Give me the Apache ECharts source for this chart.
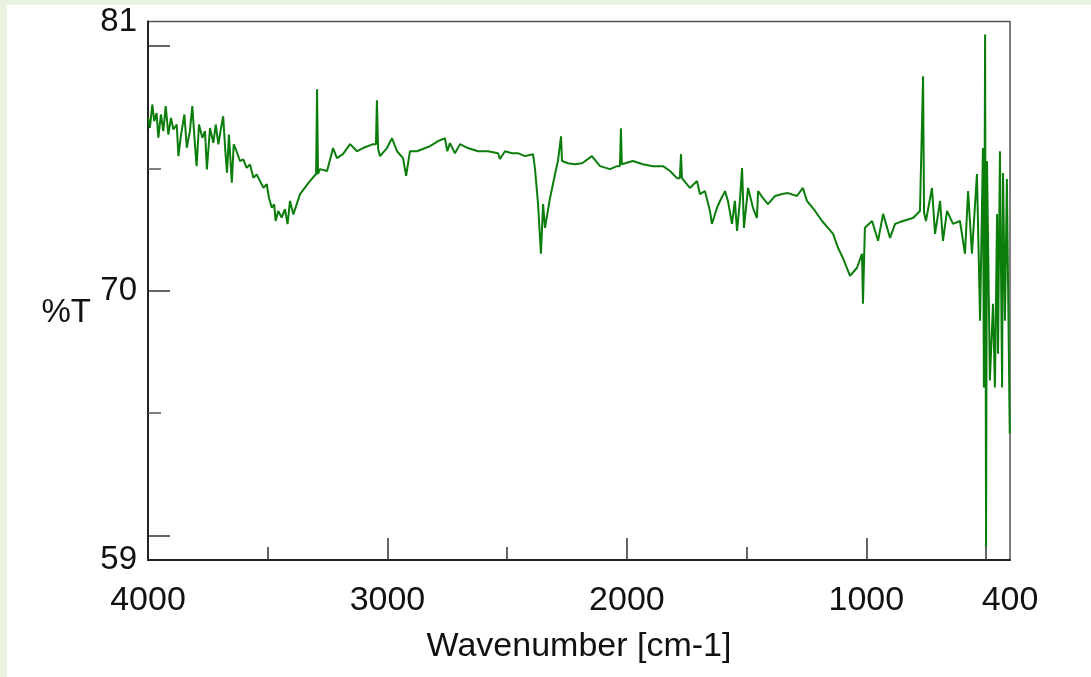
<!DOCTYPE html>
<html>
<head>
<meta charset="utf-8">
<title>IR spectrum</title>
<script src="https://cdn.jsdelivr.net/npm/echarts@6/dist/echarts.min.js"></script>
<style>
  html, body { margin: 0; padding: 0; background: #eaf2e0; }
  #main { position: absolute; left: 7px; top: 5px; width: 1084px; height: 672px; background: #fff; }
</style>
</head>
<body>
<div id="main"></div>
<script>
const wavenumbers = [
  3999, 3992, 3982, 3974, 3964, 3957, 3946, 3936, 3926, 3915,
  3904, 3894, 3880, 3873, 3862, 3848, 3838, 3825, 3815, 3804,
  3797, 3787, 3773, 3762, 3754, 3741, 3727, 3717, 3706, 3695,
  3686, 3678, 3670, 3662, 3650, 3642, 3630, 3616, 3602, 3588,
  3574, 3560, 3546, 3532, 3518, 3504, 3495, 3483, 3473, 3467,
  3456, 3442, 3428, 3417, 3407, 3393, 3365, 3324, 3298, 3294,
  3290, 3282, 3252, 3227, 3211, 3186, 3156, 3127, 3102, 3060,
  3048, 3044, 3039, 3031, 3002, 2981, 2960, 2935, 2922, 2906,
  2877, 2852, 2822, 2789, 2760, 2750, 2739, 2718, 2697, 2664,
  2622, 2580, 2538, 2530, 2509, 2480, 2455, 2426, 2392, 2384,
  2371, 2359, 2350, 2342, 2321, 2300, 2288, 2275, 2271, 2246,
  2217, 2187, 2146, 2112, 2071, 2041, 2029, 2025, 2021, 1975,
  1933, 1891, 1849, 1820, 1791, 1779, 1774, 1770, 1766, 1737,
  1707, 1695, 1674, 1653, 1645, 1624, 1611, 1590, 1578, 1561,
  1549, 1540, 1528, 1519, 1511, 1494, 1473, 1457, 1452, 1432,
  1411, 1381, 1352, 1327, 1290, 1265, 1248, 1214, 1185, 1160,
  1139, 1118, 1098, 1068, 1039, 1018, 1014, 1006, 976, 951,
  930, 901, 880, 847, 805, 776, 768, 763, 759, 751,
  726, 713, 692, 680, 663, 638, 609, 588, 575, 559,
  538, 525, 513, 509, 504, 500, 496, 484, 471, 463,
  454, 450, 442, 433, 429, 421, 413, 401
];
// %T at each wavenumber
const transmittance = [
  77.06, 76.65, 77.61, 76.93, 77.26, 76.25, 77.20, 76.52, 77.54, 76.38,
  77.06, 76.59, 76.79, 75.50, 76.38, 77.20, 75.84, 76.52, 77.54, 75.98,
  75.09, 76.79, 76.25, 76.52, 74.96, 76.65, 76.04, 76.79, 75.98, 76.65,
  77.13, 75.84, 74.82, 76.38, 74.41, 75.98, 75.70, 75.30, 75.37, 75.02,
  75.16, 74.62, 74.75, 74.48, 74.21, 74.35, 73.80, 73.39, 73.53, 72.85,
  73.26, 72.99, 73.33, 72.72, 73.67, 73.12, 73.95, 74.48, 74.77, 78.23,
  74.77, 74.97, 74.89, 75.83, 75.42, 75.58, 75.99, 75.70, 75.83, 75.99,
  75.99, 77.78, 75.80, 75.50, 75.83, 76.23, 75.70, 75.42, 74.69, 75.70,
  75.70, 75.79, 75.91, 76.11, 76.23, 75.70, 76.03, 75.62, 75.99, 75.83,
  75.70, 75.70, 75.62, 75.38, 75.70, 75.62, 75.62, 75.50, 75.58, 75.01,
  73.54, 71.51, 73.54, 72.57, 73.79, 74.77, 75.30, 76.31, 75.30, 75.21,
  75.17, 75.21, 75.50, 75.09, 74.97, 75.09, 75.10, 76.64, 75.17, 75.30,
  75.17, 75.09, 75.09, 74.89, 74.60, 74.60, 75.58, 74.60, 74.60, 74.20,
  74.48, 73.95, 74.07, 73.26, 72.73, 73.38, 73.67, 74.07, 73.67, 72.73,
  73.67, 72.44, 73.67, 75.01, 72.57, 74.20, 73.38, 72.97, 74.07, 73.79,
  73.54, 73.87, 73.95, 73.99, 73.87, 74.20, 73.67, 73.26, 72.85, 72.57,
  72.32, 71.75, 71.34, 70.61, 70.94, 71.51, 69.47, 72.57, 72.85, 72.04,
  73.14, 72.16, 72.73, 72.85, 72.97, 73.26, 73.30, 78.76, 73.20, 72.85,
  74.20, 72.32, 73.67, 72.04, 73.26, 72.73, 72.85, 71.51, 74.07, 71.51,
  74.77, 68.78, 75.83, 66.05, 80.47, 59.53, 75.30, 66.33, 69.47, 66.05,
  73.14, 67.43, 75.70, 66.05, 74.81, 68.78, 74.56, 64.17
];
const xLabels = [4000, 3000, 2000, 1000, 400];
const xMajorTicks = [3000, 2000, 1000];
const xMinorTicks = [3500, 2500, 1500, 500];
const yLabels = [59, 70, 81];
const yMajorTicks = [60, 70, 80];
const yMinorTicks = [65, 75];

const spectrum = wavenumbers.map((w, i) => [w, transmittance[i]]);

let myChart = echarts.init(document.getElementById('main'));
const font = 'Liberation Sans, Arial, sans-serif';

let option = {
    animation: false,
    grid: {
        left: 141, right: 81, top: 15, bottom: 117,
        show: true,
        borderColor: '#555',
        borderWidth: 1.5
    },
    xAxis: [
        {
            type: 'value', min: 400, max: 4000, inverse: true,
            position: 'bottom',
            name: 'Wavenumber [cm-1]',
            nameLocation: 'middle',
            nameGap: 70,
            nameTextStyle: { fontFamily: font, fontSize: 34, color: '#111' },
            axisLine: { show: true, lineStyle: { color: '#222', width: 2 } },
            axisTick: { show: true, inside: true, length: 22, customValues: xMajorTicks, lineStyle: { color: '#333', width: 1.5 } },
            axisLabel: { customValues: xLabels, margin: 24, fontFamily: font, fontSize: 34, color: '#111', formatter: v => String(v) },
            splitLine: { show: false }
        },
        {
            type: 'value', min: 400, max: 4000, inverse: true,
            position: 'bottom',
            axisLine: { show: false },
            axisTick: { show: true, inside: true, length: 13, customValues: xMinorTicks, lineStyle: { color: '#333', width: 1.5 } },
            axisLabel: { show: false },
            splitLine: { show: false }
        }
    ],
    yAxis: [
        {
            type: 'value', min: 59, max: 81,
            position: 'left',
            name: '%T',
            nameLocation: 'middle',
            nameRotate: 0,
            nameGap: 57,
            nameTextStyle: { fontFamily: font, fontSize: 33, color: '#111', verticalAlign: 'top', padding: [6, 0, 0, 0] },
            axisLine: { show: true, lineStyle: { color: '#222', width: 2 } },
            axisTick: { show: true, inside: true, length: 22, customValues: yMajorTicks, lineStyle: { color: '#333', width: 1.5 } },
            axisLabel: { customValues: yLabels, margin: 11, fontFamily: font, fontSize: 33, color: '#111' },
            splitLine: { show: false }
        },
        {
            type: 'value', min: 59, max: 81,
            position: 'left',
            axisLine: { show: false },
            axisTick: { show: true, inside: true, length: 13, customValues: yMinorTicks, lineStyle: { color: '#555', width: 1.5 } },
            axisLabel: { show: false },
            splitLine: { show: false }
        }
    ],
    series: [
        {
            type: 'line',
            data: spectrum,
            showSymbol: false,
            lineStyle: { color: '#0b7d0b', width: 2 }
        }
    ]
};
myChart.setOption(option);
</script>
</body>
</html>
